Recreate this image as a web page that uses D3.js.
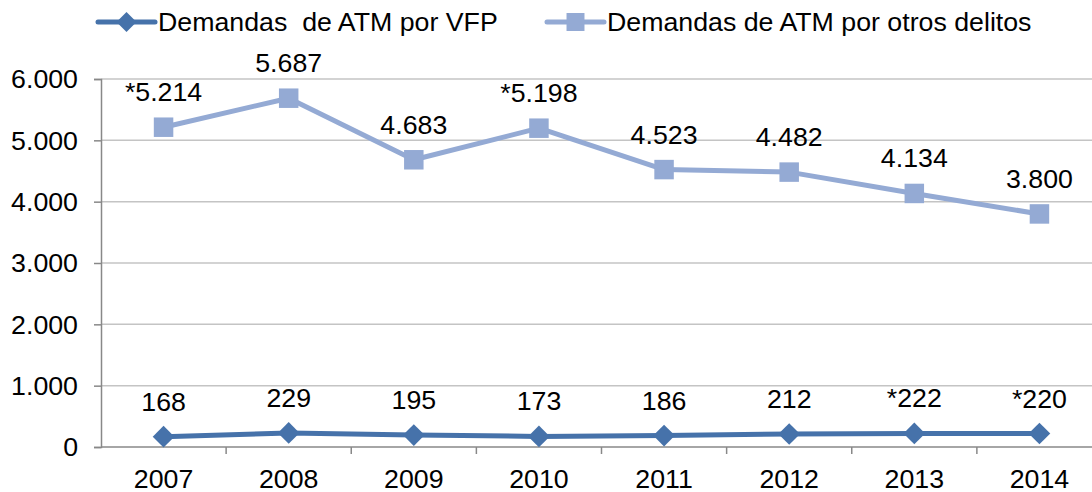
<!DOCTYPE html>
<html>
<head>
<meta charset="utf-8">
<script src="https://cdn.jsdelivr.net/npm/d3@7"></script>
<style>
  body { margin: 0; background: #fff; }
  text { font-family: "Liberation Sans", Arial, sans-serif; fill: #000; }
</style>
</head>
<body>
<div id="chart"></div>
<script>
// données
const annees = ["2007", "2008", "2009", "2010", "2011", "2012", "2013", "2014"];
const demandasVFP = [168, 229, 195, 173, 186, 212, 222, 220];
const demandasOtros = [5214, 5687, 4683, 5198, 4523, 4482, 4134, 3800];
// valeurs marquées d'un astérisque
const estrellaVFP = [false, false, false, false, false, false, true, true];
const estrellaOtros = [true, false, false, true, false, false, false, false];
const ticksY = [0, 1000, 2000, 3000, 4000, 5000, 6000];
const nombres = ["Demandas  de ATM por VFP", "Demandas de ATM por otros delitos"];

const width = 1092;
const height = 492;
const colorVFP = "#4672AA";
const colorOtros = "#94AAD4";
const fontSize = 25;
const stretch = 1.07; // le texte de l'original est un peu étiré en largeur

// format espagnol : 5.214
const es = d3.formatLocale({ decimal: ",", thousands: ".", grouping: [3], currency: ["", ""] });
const fmt = es.format(",d");

// place un texte au point (px, py) avec l'étirement horizontal
function place(sel, px, py) {
    return sel
        .attr("x", 0).attr("y", 0)
        .attr("transform", function (d, i) {
            const a = typeof px === "function" ? px(d, i) : px;
            const b = typeof py === "function" ? py(d, i) : py;
            return `translate(${a},${b}) scale(${stretch},1)`;
        })
        .attr("font-size", fontSize);
}

const svg = d3.select("#chart").append("svg")
    .attr("width", width)
    .attr("height", height);

const x = d3.scaleBand().domain(annees).range([101, 1102]).padding(0);
const y = d3.scaleLinear().domain([0, 6000]).range([447, 79]);
const cx = d => x(d) + x.bandwidth() / 2;

// grille
svg.append("g")
    .selectAll("line")
    .data(ticksY.filter(d => d > 0))
    .join("line")
    .attr("x1", 101).attr("x2", width)
    .attr("y1", d => y(d)).attr("y2", d => y(d))
    .attr("stroke", "#c4c4c4")
    .attr("stroke-width", 1.5);

// axe Y
const axeY = svg.append("g")
    .attr("transform", "translate(101,0)")
    .call(d3.axisLeft(y).tickValues(ticksY).tickFormat(d => fmt(d)).tickSize(7));
axeY.select(".domain").attr("stroke", "#888").attr("stroke-width", 1.5);
axeY.selectAll(".tick line").attr("stroke", "#888").attr("stroke-width", 1.5);
axeY.selectAll(".tick text").remove();
axeY.selectAll(".tick").append("text")
    .call(place, -23, 0)
    .attr("dy", "0.35em")
    .attr("text-anchor", "end")
    .attr("font-family", "Liberation Sans, Arial, sans-serif")
    .attr("fill", "#000")
    .text(d => fmt(d));

// axe X
const axeX = svg.append("g")
    .attr("transform", "translate(0,447)");
axeX.append("line")
    .attr("x1", 101).attr("x2", width)
    .attr("stroke", "#888").attr("stroke-width", 1.5);
axeX.selectAll(".tk")
    .data(annees)
    .join("line")
    .attr("class", "tk")
    .attr("x1", d => x(d) + x.bandwidth()).attr("x2", d => x(d) + x.bandwidth())
    .attr("y1", 0).attr("y2", 7)
    .attr("stroke", "#888").attr("stroke-width", 1.5);
axeX.selectAll("text")
    .data(annees)
    .join("text")
    .call(place, d => cx(d), 41)
    .attr("text-anchor", "middle")
    .text(d => d);

// séries
const series = [
    { nombre: nombres[0], valores: demandasVFP, estrellas: estrellaVFP, color: colorVFP, forma: d3.symbolDiamond2, size: 300 },
    { nombre: nombres[1], valores: demandasOtros, estrellas: estrellaOtros, color: colorOtros, forma: d3.symbolSquare, size: 380 }
];

const linea = d3.line()
    .x((d, i) => cx(annees[i]))
    .y(d => y(d));

series.forEach(function (s) {
    const g = svg.append("g");
    g.append("path")
        .datum(s.valores)
        .attr("d", linea)
        .attr("fill", "none")
        .attr("stroke", s.color)
        .attr("stroke-width", 5)
        .attr("stroke-linejoin", "round");
    g.selectAll(".marker")
        .data(s.valores)
        .join("path")
        .attr("class", "marker")
        .attr("d", d3.symbol().type(s.forma).size(s.size))
        .attr("transform", (d, i) => `translate(${cx(annees[i])},${y(d)})`)
        .attr("fill", s.color);
    g.selectAll(".label")
        .data(s.valores)
        .join("text")
        .attr("class", "label")
        .call(place, (d, i) => cx(annees[i]), d => y(d) - 26)
        .attr("text-anchor", "middle")
        .text((d, i) => (s.estrellas[i] ? "*" : "") + fmt(d));
});

// légende
const legendX = [98, 547];
const leg = svg.selectAll(".leg")
    .data(series)
    .join("g")
    .attr("class", "leg")
    .attr("transform", (d, i) => `translate(${legendX[i]},22)`);
leg.append("line")
    .attr("x1", 0).attr("x2", 57)
    .attr("stroke", d => d.color)
    .attr("stroke-width", 5)
    .attr("stroke-linecap", "round");
leg.append("path")
    .attr("d", d => d3.symbol().type(d.forma).size(d.size * 0.85)())
    .attr("transform", "translate(28.5,0)")
    .attr("fill", d => d.color);
leg.append("text")
    .call(place, 60, 9)
    .style("white-space", "pre")
    .text(d => d.nombre);
</script>
</body>
</html>
